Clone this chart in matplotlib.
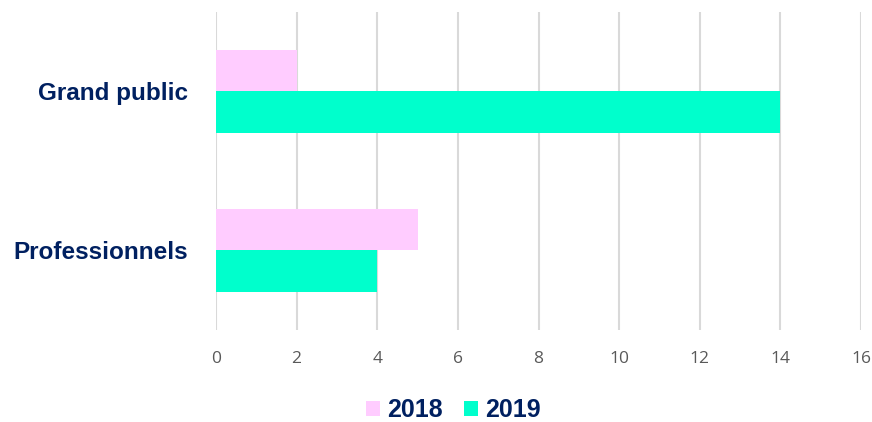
import matplotlib.pyplot as plt
import numpy as np

categories = ["Grand public", "Professionnels"]
values_2018 = [2, 5]
values_2019 = [14, 4]
xticks = [0, 2, 4, 6, 8, 10, 12, 14, 16]

navy = "#002060"
plt.rcParams['font.family'] = ['Liberation Sans', 'DejaVu Sans']

fig = plt.figure(figsize=(8.72, 4.22), dpi=100)
ax = fig.add_axes([0.2477, 0.218, 0.7397, 0.7536])

y = np.arange(len(categories))
h = 0.26
ax.barh(y - h / 2, values_2018, height=h, color="#FFCCFF", label="2018", zorder=2)
ax.barh(y + h / 2, values_2019, height=h, color="#00FFCC", label="2019", zorder=2)

ax.set_ylim(len(categories) - 0.5, -0.5)
ax.set_yticks(y, categories)
ax.set_xlim(0, 16)
ax.set_xticks(xticks)
ax.xaxis.grid(True, color="#D9D9D9", lw=1.5, zorder=0)
for s in ax.spines.values():
    s.set_visible(False)
ax.tick_params(axis="both", length=0)
ax.tick_params(axis="x", pad=15)
ax.tick_params(axis="y", pad=20)
for lab in ax.get_xticklabels():
    lab.set_fontfamily(['Open Sans', 'DejaVu Sans'])
    lab.set_fontsize(12.5)
    lab.set_color("#595959")
for lab in ax.get_yticklabels():
    lab.set_fontsize(17.5)
    lab.set_fontweight("bold")
    lab.set_color(navy)

leg = fig.legend(loc="center", bbox_to_anchor=(0.52, 0.028), ncol=2, frameon=False,
                 prop={"weight": "bold", "size": 18},
                 handlelength=0.55, handleheight=0.55, handletextpad=0.3,
                 columnspacing=0.85)
for t in leg.get_texts():
    t.set_color(navy)

fig.savefig("out.png")
